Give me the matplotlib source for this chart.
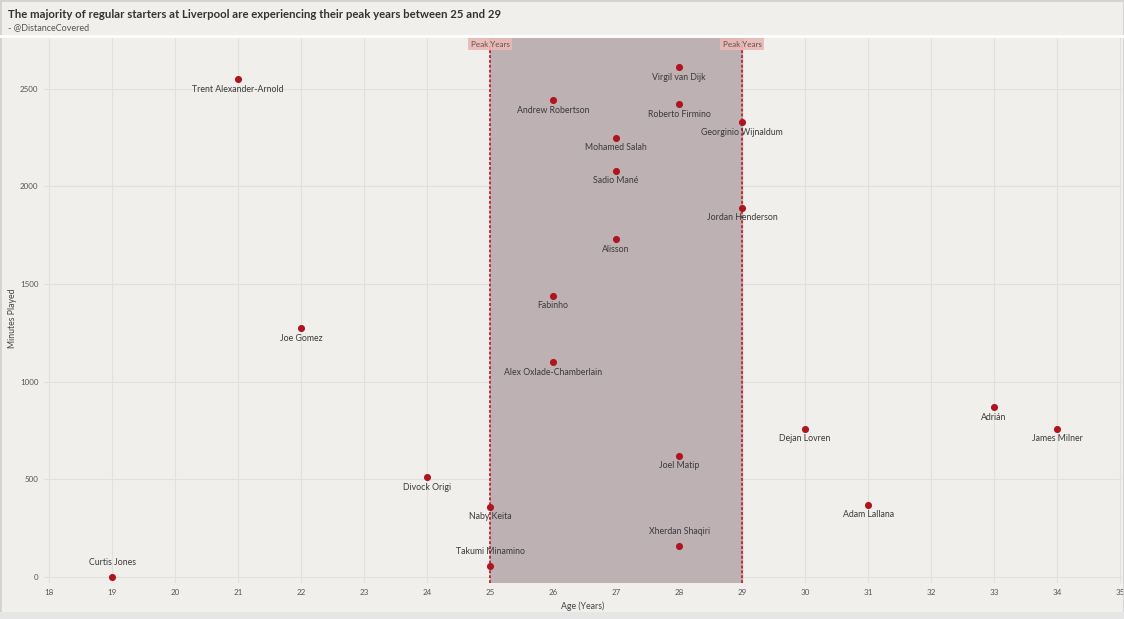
import matplotlib.pyplot as plt
from matplotlib.patches import Rectangle

players = ['Curtis Jones', 'Trent Alexander-Arnold', 'Joe Gomez', 'Divock Origi',
           'Naby Keita', 'Takumi Minamino', 'Andrew Robertson', 'Fabinho',
           'Alex Oxlade-Chamberlain', 'Mohamed Salah', 'Sadio Mané', 'Alisson',
           'Virgil van Dijk', 'Roberto Firmino', 'Joel Matip', 'Xherdan Shaqiri',
           'Georginio Wijnaldum', 'Jordan Henderson', 'Dejan Lovren', 'Adam Lallana',
           'Adrián', 'James Milner']
ages = [19, 21, 22, 24, 25, 25, 26, 26, 26, 27, 27, 27, 28, 28, 28, 28, 29, 29, 30, 31, 33, 34]
minutes = [0, 2550, 1275, 510, 360, 56, 2440, 1440, 1100, 2250, 2080, 1730,
           2610, 2420, 620, 160, 2330, 1890, 760, 370, 870, 760]
# players whose label sits above the dot
label_above = ['Curtis Jones', 'Takumi Minamino', 'Xherdan Shaqiri']

peak_start, peak_end = 25, 29
x_ticks = list(range(18, 36))
y_ticks = [0, 500, 1000, 1500, 2000, 2500]

bg = '#f0efec'
red = '#b0141c'
plt.rcParams['font.family'] = ['Lato', 'DejaVu Sans']

fig = plt.figure(figsize=(11.24, 6.19), dpi=100, facecolor=bg)
W, H = 1124, 619

# outer frame + white header separator
fig.add_artist(Rectangle((0, 0), 1, 1, transform=fig.transFigure, fill=False,
                         edgecolor='#d2d2d2', linewidth=2))
fig.add_artist(plt.Line2D([0, 1], [1 - 36 / H, 1 - 36 / H], transform=fig.transFigure,
                          color='white', linewidth=2))
fig.add_artist(Rectangle((0, 0), 1, 7 / H, transform=fig.transFigure,
                         facecolor='#e6e6e6', edgecolor='none'))

fig.text(8 / W, 1 - 14 / H, 'The majority of regular starters at Liverpool are experiencing their peak years between 25 and 29',
         fontsize=8.2, fontweight='bold', color='#333333', va='center', ha='left')
fig.text(8 / W, 1 - 28 / H, '- @DistanceCovered', fontsize=6.5, color='#555555', va='center', ha='left')

ax = fig.add_axes([44 / W, 1 - 583 / H, (1122 - 44) / W, (583 - 38) / H])
ax.set_facecolor(bg)
ax.set_xlim(17.92, 35.03)
ax.set_ylim(-31, 2760)

ax.set_xticks(x_ticks)
ax.set_yticks(y_ticks)
ax.grid(True, color='#e2e0dc', linewidth=0.8)
ax.set_axisbelow(True)
for s in ax.spines.values():
    s.set_visible(False)
ax.tick_params(length=0, labelsize=5.8, colors='#555555', pad=4)

ax.axvspan(peak_start, peak_end, color='#bdb1b3', zorder=1)
for xv in (peak_start, peak_end):
    ax.axvline(xv, color='#c0303a', linestyle=(0, (1.5, 1)), linewidth=1.4, zorder=2)
    ax.text(xv, 2728, 'Peak Years', ha='center', va='center', fontsize=5.8, color='#6a4a4a', zorder=4,
            bbox=dict(boxstyle='square,pad=0.3', facecolor='#e8b9b6', edgecolor='none', alpha=0.9))

ax.scatter(ages, minutes, s=26, color=red, zorder=5, linewidths=0)
for name, a, m in zip(players, ages, minutes):
    if name in label_above:
        ax.annotate(name, (a, m), xytext=(0, 7), textcoords='offset points',
                    ha='center', va='bottom', fontsize=6.3, color='#3a3a3a', zorder=6)
    else:
        ax.annotate(name, (a, m), xytext=(0, -4), textcoords='offset points',
                    ha='center', va='top', fontsize=6.3, color='#3a3a3a', zorder=6)

ax.set_xlabel('Age (Years)', fontsize=6.3, color='#444444', labelpad=4)
fig.text(13 / W, 1 - 318 / H, 'Minutes Played', rotation=90, fontsize=6.3,
         color='#444444', ha='center', va='center')

fig.savefig('out.png', dpi=100, facecolor=bg)
